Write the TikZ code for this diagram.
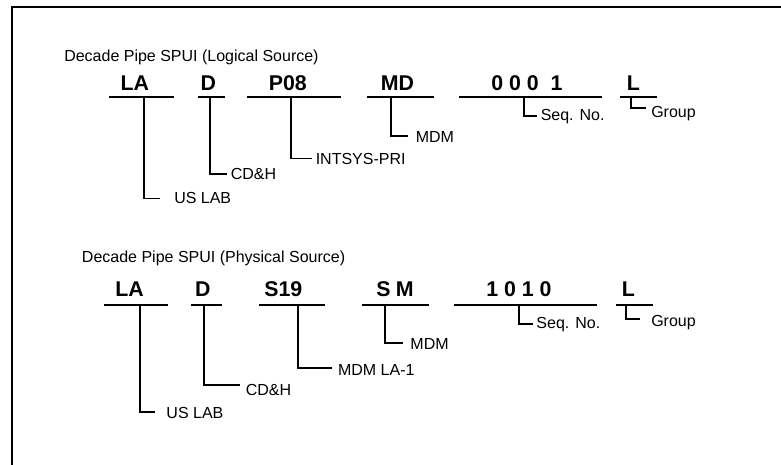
\documentclass[tikz,border=0pt]{standalone}
\usepackage{fontspec}
\setmainfont{Liberation Sans}
\begin{document}
\begin{tikzpicture}[x=0.75pt,y=-0.75pt,
  lbl/.style={font=\fontsize{12}{14}\selectfont, inner sep=0pt, anchor=base west},
  code/.style={font=\fontsize{16}{19}\selectfont\bfseries, inner sep=0pt, anchor=base},
  ttl/.style={font=\fontsize{12}{14}\selectfont, inner sep=0pt, anchor=base west},
  uline/.style={line width=1.6pt},
  lead/.style={line width=1.3pt},
  frameline/.style={line width=1.5pt}]
\useasboundingbox (0,0) rectangle (781,464);
\clip (0,0) rectangle (781,464);
% frame (only top and left edges fall inside the picture)
\coordinate (fb) at (11.5,480);
\coordinate (fc) at (11.5,7);
\coordinate (fr) at (800,7);
\draw[frameline] (fb) -- (fc) -- (fr);

% ===== Logical source =====
\node[ttl] (titleA) at (64,61) {Decade Pipe SPUI (Logical Source)};

\node[code] (a1) at (134.8,90.7) {LA};
\coordinate (a1u) at (109,97); \coordinate (a1w) at (173.7,97);
\draw[uline] (a1u) -- (a1w);
\coordinate (a1v) at (144.3,97); \coordinate (a1h) at (160,198.5);
\draw[lead] (a1v) |- (a1h);
\node[lbl] (a1l) at (174,203.4) {US LAB};

\node[code] (a2) at (208.2,90.7) {D};
\coordinate (a2u) at (198,97); \coordinate (a2w) at (225.3,97);
\draw[uline] (a2u) -- (a2w);
\coordinate (a2v) at (210,97); \coordinate (a2h) at (226.7,174);
\draw[lead] (a2v) |- (a2h);
\node[lbl] (a2l) at (230.5,179.8) {CD\&H};

\node[code] (a3) at (287.8,90.7) {P08};
\coordinate (a3u) at (247,97); \coordinate (a3w) at (341,97);
\draw[uline] (a3u) -- (a3w);
\coordinate (a3v) at (291.3,97); \coordinate (a3h) at (311.7,158.5);
\draw[lead] (a3v) |- (a3h);
\node[lbl] (a3l) at (315.5,164.4) {INTSYS-PRI};

\node[code] (a4) at (397.5,90.7) {MD};
\coordinate (a4u) at (366.7,97); \coordinate (a4w) at (434,97);
\draw[uline] (a4u) -- (a4w);
\coordinate (a4v) at (390.7,97); \coordinate (a4h) at (408.3,135.7);
\draw[lead] (a4v) |- (a4h);
\node[lbl] (a4l) at (415.5,142.2) {MDM};

\node[code] (a5) at (527,90.7) {0 0 0\ \ 1};
\coordinate (a5u) at (459,97); \coordinate (a5w) at (601.7,97);
\draw[uline] (a5u) -- (a5w);
\coordinate (a5v) at (524.3,97); \coordinate (a5h) at (536.7,115.7);
\draw[lead] (a5v) |- (a5h);
\node[lbl] (a5l) at (540.5,120) {Seq. No.};

\node[code] (a6) at (633.3,90.7) {L};
\coordinate (a6u) at (620,97); \coordinate (a6w) at (657.3,97);
\draw[uline] (a6u) -- (a6w);
\coordinate (a6v) at (631,97); \coordinate (a6h) at (645.7,108.3);
\draw[lead] (a6v) |- (a6h);
\node[lbl] (a6l) at (651,117.5) {Group};

% ===== Physical source =====
\node[ttl] (titleB) at (81.7,262.5) {Decade Pipe SPUI (Physical Source)};

\node[code] (b1) at (129.5,296.7) {LA};
\coordinate (b1u) at (104,305); \coordinate (b1w) at (168.3,305);
\draw[uline] (b1u) -- (b1w);
\coordinate (b1v) at (140,305); \coordinate (b1h) at (155,411.7);
\draw[lead] (b1v) |- (b1h);
\node[lbl] (b1l) at (166.2,418.4) {US LAB};

\node[code] (b2) at (202.8,296.7) {D};
\coordinate (b2u) at (191,305); \coordinate (b2w) at (221.7,305);
\draw[uline] (b2u) -- (b2w);
\coordinate (b2v) at (204,305); \coordinate (b2h) at (240,385);
\draw[lead] (b2v) |- (b2h);
\node[lbl] (b2l) at (245.5,395) {CD\&H};

\node[code] (b3) at (283.3,296.7) {S19};
\coordinate (b3u) at (259,305); \coordinate (b3w) at (325,305);
\draw[uline] (b3u) -- (b3w);
\coordinate (b3v) at (297.7,305); \coordinate (b3h) at (331.7,368.3);
\draw[lead] (b3v) |- (b3h);
\node[lbl] (b3l) at (337.8,375.7) {MDM LA-1};

\node[code] (b4) at (395,296.7) {S\hspace{4pt}M};
\coordinate (b4u) at (361.7,305); \coordinate (b4w) at (429,305);
\draw[uline] (b4u) -- (b4w);
\coordinate (b4v) at (385,305); \coordinate (b4h) at (403.3,343.3);
\draw[lead] (b4v) |- (b4h);
\node[lbl] (b4l) at (410.2,349) {MDM};

\node[code] (b5) at (519,296.7) {1 0 1 0};
\coordinate (b5u) at (454,305); \coordinate (b5w) at (596.7,305);
\draw[uline] (b5u) -- (b5w);
\coordinate (b5v) at (519.3,305); \coordinate (b5h) at (532.7,324);
\draw[lead] (b5v) |- (b5h);
\node[lbl] (b5l) at (536.2,328.2) {Seq. No.};

\node[code] (b6) at (628.3,296.7) {L};
\coordinate (b6u) at (616,305); \coordinate (b6w) at (653.3,305);
\draw[uline] (b6u) -- (b6w);
\coordinate (b6v) at (626,305); \coordinate (b6h) at (640,319);
\draw[lead] (b6v) |- (b6h);
\node[lbl] (b6l) at (651,326) {Group};
\end{tikzpicture}
\end{document}
